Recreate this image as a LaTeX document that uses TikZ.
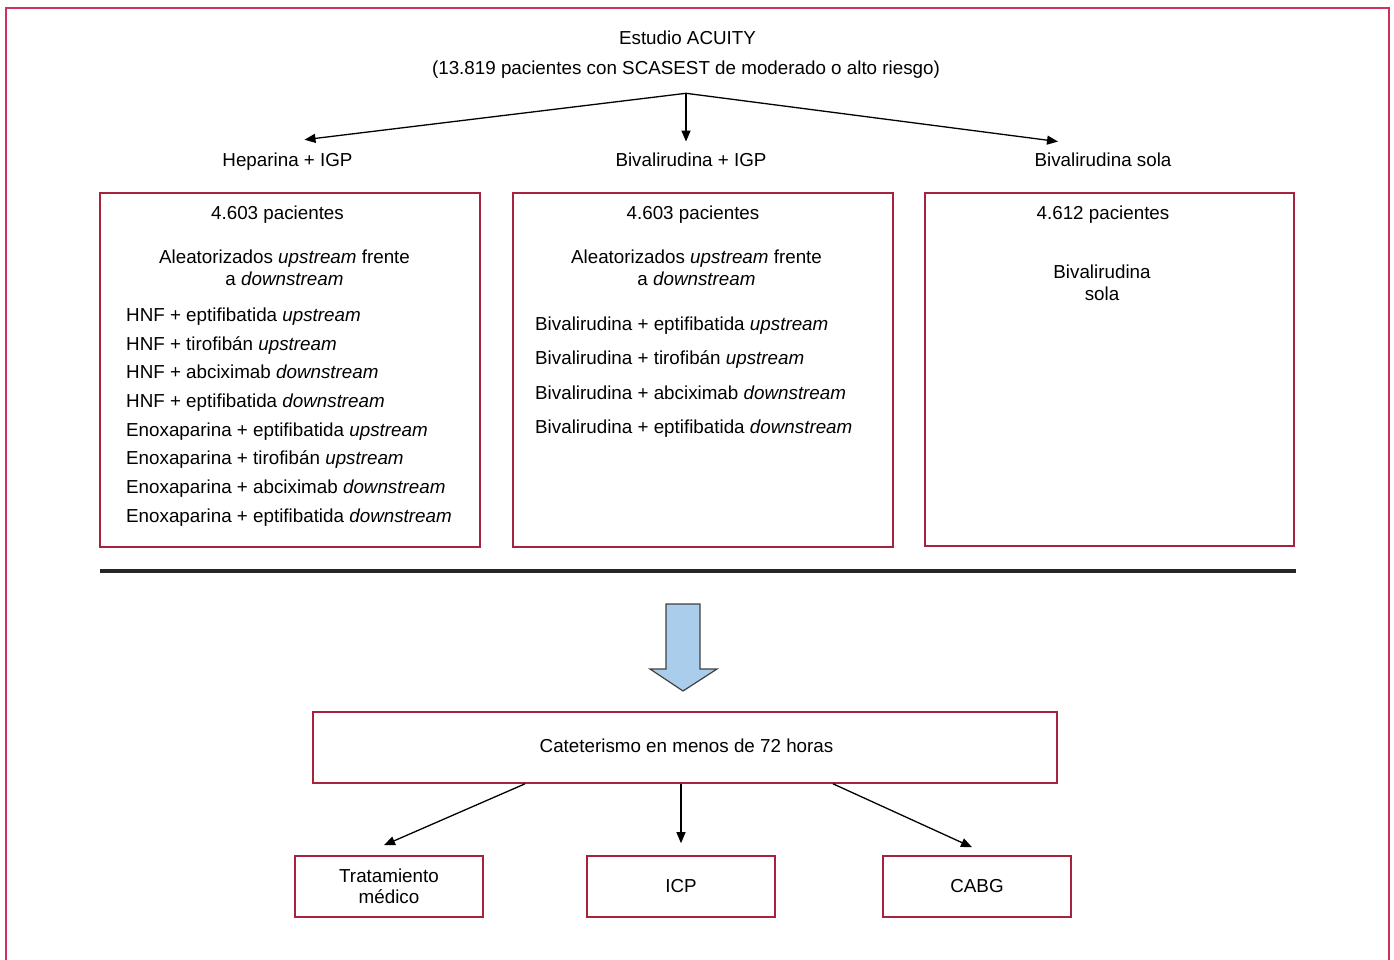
\documentclass[tikz,border=0pt]{standalone}
\usepackage{fontspec}
\setmainfont{Liberation Sans}
\usetikzlibrary{arrows.meta}
\definecolor{framered}{RGB}{205,50,95}
\definecolor{boxred}{RGB}{165,35,60}
\definecolor{arrowblue}{RGB}{170,205,236}
\begin{document}
\begin{tikzpicture}[x=1pt, y=-1pt,
    txt/.style={font=\fontsize{18.8}{22}\selectfont, align=center},
    box/.style={draw=boxred, line width=1.6pt, inner sep=0pt},
    arr/.style={-{Triangle[length=11pt,width=9pt]}, line width=1.3pt}]

    \useasboundingbox (0,0) rectangle (1394,959);
    \draw[framered, line width=2.5pt] (6,962) -- (6,8) -- (1389,8) -- (1389,962);

    % title
    \node[txt] (title1) at (687.5, 38) {Estudio ACUITY};
    \node[txt] (title2) at (686, 70) {(13.819 pacientes con SCASEST de moderado o alto riesgo)};
    \coordinate (split) at ([yshift=-11pt]title2.south);

    \node[txt] (hep) at (287.5, 162) {Heparina + IGP};
    \node[txt] (bivigp) at (691, 160) {Bivalirudina + IGP};
    \node[txt] (bivsola) at (1103, 160) {Bivalirudina sola};

    \draw[arr] (split) -- ([xshift=17pt,yshift=10pt]hep.north);
    \draw[arr] (split) -- ([yshift=8pt]split |- bivigp.north);
    \draw[arr] (split) -- ([xshift=-45pt,yshift=8pt]bivsola.north);

    % three arms
    \node[box, minimum width=380pt, minimum height=354pt] (box1) at (290, 370) {};
    \node[box, minimum width=380pt, minimum height=354pt] (box2) at (703, 370) {};
    \node[box, minimum width=369pt, minimum height=353pt] (box3) at (1109.5, 369.5) {};

    \node[txt] (n1) at (277.5, 215) {4.603 pacientes};
    \node[txt] (n2) at (693, 215) {4.603 pacientes};
    \node[txt] (n3) at (1103, 215) {4.612 pacientes};

    \node[txt] (rand1) at (284.5, 268) {Aleatorizados \textit{upstream} frente\\a \textit{downstream}};
    \node[txt] (rand2) at (696.5, 268) {Aleatorizados \textit{upstream} frente\\a \textit{downstream}};
    \node[txt] (sola) at (1102, 283) {Bivalirudina\\sola};

    \node[txt, align=left, anchor=west, inner sep=0pt, font=\fontsize{18.8}{28.7}\selectfont] (list1) at (126, 417) {%
        HNF + eptifibatida \textit{upstream}\\
        HNF + tirofibán \textit{upstream}\\
        HNF + abciximab \textit{downstream}\\
        HNF + eptifibatida \textit{downstream}\\
        Enoxaparina + eptifibatida \textit{upstream}\\
        Enoxaparina + tirofibán \textit{upstream}\\
        Enoxaparina + abciximab \textit{downstream}\\
        Enoxaparina + eptifibatida \textit{downstream}};
    \node[txt, align=left, anchor=west, inner sep=0pt, font=\fontsize{18.8}{34.3}\selectfont] (list2) at (535, 377) {%
        Bivalirudina + eptifibatida \textit{upstream}\\
        Bivalirudina + tirofibán \textit{upstream}\\
        Bivalirudina + abciximab \textit{downstream}\\
        Bivalirudina + eptifibatida \textit{downstream}};

    \draw[line width=4.5pt, black!85] (100,571) -- (1296,571);

    % big arrow
    \draw[fill=arrowblue, draw=black!75, line width=1.2pt]
        (666,604) -- (700,604) -- (700,669) -- (717,669) -- (683,691) -- (650,669) -- (666,669) -- cycle;

    % catheterization
    \node[box, minimum width=744pt, minimum height=71pt] (cat) at (685, 747.5) {};
    \node[txt] (cattxt) at (686.5, 746) {Cateterismo en menos de 72 horas};

    \node[box, txt, minimum width=188pt, minimum height=61pt] (trat) at (389, 886.5) {Tratamiento\\[-1pt]médico};
    \node[box, txt, minimum width=188pt, minimum height=61pt] (icp) at (681, 886.5) {ICP};
    \node[box, txt, minimum width=188pt, minimum height=61pt] (cabg) at (977, 886.5) {CABG};

    \draw[arr] ([xshift=-160pt]cat.south) -- ([xshift=-5pt,yshift=10pt]trat.north);
    \draw[arr] (icp.north |- cat.south) -- ([yshift=12pt]icp.north);
    \draw[arr] ([xshift=148pt]cat.south) -- ([xshift=-5pt,yshift=8pt]cabg.north);
\end{tikzpicture}
\end{document}
